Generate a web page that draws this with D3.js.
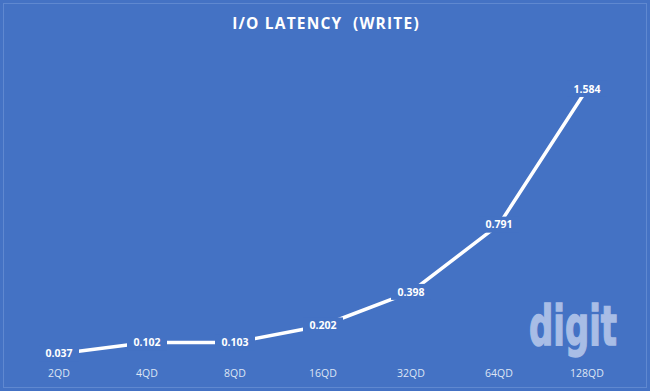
<!DOCTYPE html>
<html>
<head>
<meta charset="utf-8">
<script src="https://cdn.jsdelivr.net/npm/d3@7"></script>
<style>
  html, body { margin: 0; padding: 0; background: #4472c4; }
  svg { display: block; }
  .cat { font-family: "Open Sans", sans-serif; font-size: 10.5px; fill: #dde5f4; }
  .lbl { font-family: "Open Sans", sans-serif; font-size: 10.5px; font-weight: bold; fill: #ffffff; }
</style>
</head>
<body>
<svg id="chart" width="650" height="391"></svg>
<script>
var categories = ['2QD', '4QD', '8QD', '16QD', '32QD', '64QD', '128QD'];
var latency = [0.037, 0.102, 0.103, 0.202, 0.398, 0.791, 1.584];
var yDomain = [0, 1.8];

var width = 650, height = 391;
var bg = '#4472c4';
var svg = d3.select('#chart');

svg.append('rect')
  .attr('width', width)
  .attr('height', height)
  .attr('fill', bg);

// thin lighter frame
svg.append('rect')
  .attr('x', 3.5).attr('y', 3.5)
  .attr('width', width - 7).attr('height', height - 7)
  .attr('fill', 'none')
  .attr('stroke', '#5f88d0')
  .attr('stroke-width', 1);

svg.append('text')
  .attr('x', width / 2 + 1)
  .attr('y', 29)
  .attr('text-anchor', 'middle')
  .style('font-family', '"Open Sans", sans-serif')
  .style('font-size', '15.5px')
  .style('font-weight', 'bold')
  .style('letter-spacing', '1.2px')
  .style('white-space', 'pre')
  .style('fill', '#ffffff')
  .text('I/O LATENCY  (WRITE)');

var x = d3.scaleBand()
  .domain(categories)
  .range([15, 631]);

var y = d3.scaleLinear()
  .domain(yDomain)
  .range([360, 52]);

// watermark
svg.append('text')
  .attr('x', 529)
  .attr('y', 345)
  .attr('textLength', 88)
  .attr('lengthAdjust', 'spacingAndGlyphs')
  .style('font-family', '"DejaVu Sans", sans-serif')
  .style('font-size', '55px')
  .style('font-weight', 'bold')
  .style('fill', '#a8bde6')
  .style('stroke', '#a8bde6')
  .style('stroke-width', 1.5)
  .text('digit');

var xAxis = d3.axisBottom(x).tickSize(0).tickPadding(0);
var gx = svg.append('g')
  .attr('transform', 'translate(0,370)')
  .call(xAxis);
gx.select('.domain').remove();
gx.selectAll('text')
  .attr('class', 'cat')
  .attr('dy', '0.71em')
  .attr('fill', null);

var data = categories.map(function (c, i) { return { cat: c, v: latency[i] }; });

var line = d3.line()
  .x(function (d) { return x(d.cat) + x.bandwidth() / 2; })
  .y(function (d) { return y(d.v); });

svg.append('path')
  .datum(data)
  .attr('d', line)
  .attr('fill', 'none')
  .attr('stroke', '#ffffff')
  .attr('stroke-width', 3.5);

var labels = svg.selectAll('g.label')
  .data(data)
  .enter()
  .append('g')
  .attr('class', 'label')
  .attr('transform', function (d) {
    return 'translate(' + (x(d.cat) + x.bandwidth() / 2) + ',' + y(d.v) + ')';
  });

labels.append('rect')
  .attr('x', -20).attr('y', -8)
  .attr('width', 40).attr('height', 16)
  .attr('fill', bg);

labels.append('text')
  .attr('class', 'lbl')
  .attr('text-anchor', 'middle')
  .attr('dy', '0.35em')
  .text(function (d) { return d3.format('.3f')(d.v); });
</script>
</body>
</html>
